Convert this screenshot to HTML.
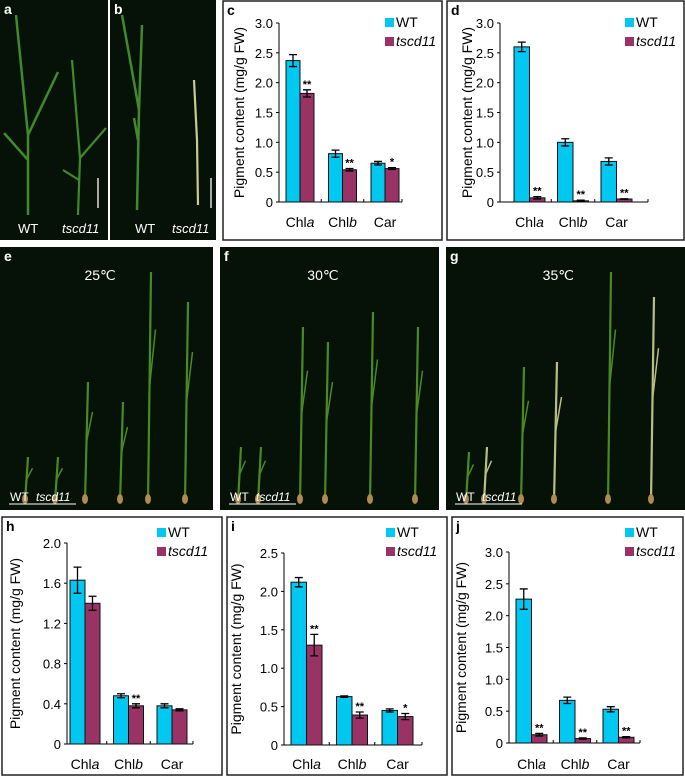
<!DOCTYPE html>
<html><head><meta charset="utf-8"><style>
html,body{margin:0;padding:0;background:#fff}
svg{display:block;font-family:"Liberation Sans",Arial,sans-serif}
</style></head><body>
<svg id="fig" width="685" height="778" viewBox="0 0 685 778" xmlns="http://www.w3.org/2000/svg">
<g id="photos"></g>
<g id="charts"></g>
</svg>
<script>
// ---- data ----
const categories = ['Chl', 'Chl', 'Car'];
const catItalic = ['a', 'b', ''];
const cWT = [2.37, 0.81, 0.65];
const cWTErr = [0.10, 0.06, 0.03];
const cMut = [1.82, 0.54, 0.56];
const cMutErr = [0.06, 0.02, 0.015];
const cStars = ['**', '**', '*'];
const cTicks = ['0', '0.5', '1.0', '1.5', '2.0', '2.5', '3.0'];
const dWT = [2.60, 1.00, 0.68];
const dWTErr = [0.08, 0.06, 0.06];
const dMut = [0.07, 0.02, 0.05];
const dMutErr = [0.02, 0.01, 0.005];
const dStars = ['**', '**', '**'];
const dTicks = ['0', '0.5', '1.0', '1.5', '2.0', '2.5', '3.0'];
const hWT = [1.63, 0.48, 0.38];
const hWTErr = [0.13, 0.02, 0.02];
const hMut = [1.40, 0.38, 0.34];
const hMutErr = [0.07, 0.02, 0.01];
const hStars = ['', '**', ''];
const hTicks = ['0', '0.4', '0.8', '1.2', '1.6', '2.0'];
const iWT = [2.12, 0.63, 0.45];
const iWTErr = [0.06, 0.01, 0.02];
const iMut = [1.30, 0.39, 0.37];
const iMutErr = [0.14, 0.04, 0.04];
const iStars = ['**', '**', '*'];
const iTicks = ['0', '0.5', '1.0', '1.5', '2.0', '2.5'];
const jWT = [2.26, 0.67, 0.53];
const jWTErr = [0.16, 0.05, 0.04];
const jMut = [0.13, 0.07, 0.09];
const jMutErr = [0.02, 0.01, 0.01];
const jStars = ['**', '**', '**'];
const jTicks = ['0', '0.5', '1.0', '1.5', '2.0', '2.5', '3.0'];

const NS = 'http://www.w3.org/2000/svg';
function mk(parent, tag, attrs, text) {
  const e = document.createElementNS(NS, tag);
  for (const k in attrs) e.setAttribute(k, attrs[k]);
  if (text !== undefined) e.textContent = text;
  parent.appendChild(e);
  return e;
}

// ---- photos ----
const photos = document.getElementById('photos');
function photo(name, x, y, w, h, letter, temp) {
  const g = mk(photos, 'g', {});
  
  
  mk(g, 'rect', {x: x, y: y, width: w, height: h, fill: '#061108'});
  const l = mk(g, 'text', {x: x + 4, y: y + 14, fill: '#fff', 'font-size': 14, 'font-weight': 'bold'}, letter);
  
  
  if (temp) {
    const t = mk(g, 'text', {x: x + w * 0.47, y: y + 33, fill: '#fff', 'font-size': 14, 'text-anchor': 'middle'}, temp);
    
    
  }
  return g;
}
function plant(g, x, yb, ht, col, lean) {
  mk(g, 'path', {d: `M${x} ${yb} L${x + lean} ${yb - ht}`, stroke: col, 'stroke-width': 2.2, fill: 'none'});
  mk(g, 'path', {d: `M${x + lean * 0.5} ${yb - ht * 0.5} L${x + lean * 0.5 + 6} ${yb - ht * 0.75}`, stroke: col, 'stroke-width': 1.5, fill: 'none'});
  mk(g, 'ellipse', {cx: x, cy: yb - 3, rx: 3, ry: 5, fill: '#b08a50'});
}
let ga = photo('photo-a', 0, 0, 108, 240, 'a');
mk(ga, 'path', {d: 'M28 215 L28 135 L16 15 M28 135 L58 72 M28 160 L4 133', stroke: '#3f8a2a', 'stroke-width': 2.5, fill: 'none'});
mk(ga, 'path', {d: 'M78 215 L80 158 L72 60 M80 158 L106 128 M79 180 L63 170', stroke: '#3f8a2a', 'stroke-width': 2.2, fill: 'none'});
mk(ga, 'line', {x1: 98, y1: 178, x2: 98, y2: 208, stroke: '#ddd', 'stroke-width': 1.5});
mk(ga, 'text', {x: 18, y: 233, fill: '#fff', 'font-size': 13}, 'WT');
mk(ga, 'text', {x: 62, y: 233, fill: '#fff', 'font-size': 13, 'font-style': 'italic'}, 'tscd11');
let gb = photo('photo-b', 110, 0, 106, 240, 'b');
mk(gb, 'path', {d: 'M137 210 L139 110 L122 15 M139 110 L142 25 M138 140 L134 118', stroke: '#3f8a2a', 'stroke-width': 2.5, fill: 'none'});
mk(gb, 'path', {d: 'M198 205 L197 140 L194 80', stroke: '#c8cc90', 'stroke-width': 2.2, fill: 'none'});
mk(gb, 'line', {x1: 211, y1: 178, x2: 211, y2: 208, stroke: '#ddd', 'stroke-width': 1.5});
mk(gb, 'text', {x: 135, y: 233, fill: '#fff', 'font-size': 13}, 'WT');
mk(gb, 'text', {x: 172, y: 233, fill: '#fff', 'font-size': 13, 'font-style': 'italic'}, 'tscd11');
const pe = [[25, 45], [55, 45], [85, 120], [120, 100], [148, 230], [185, 200]];
const pf = [[18, 55], [38, 55], [80, 175], [105, 160], [150, 190], [195, 175]];
const pg = [[20, 50], [38, 55], [75, 135], [108, 140], [162, 230], [205, 205]];
[['photo-e', 0, 213, 'e', '25℃', pe], ['photo-f', 220, 219, 'f', '30℃', pf], ['photo-g', 446, 239, 'g', '35℃', pg]].forEach(p => {
  const g = photo(p[0], p[1], 247, p[2], 263, p[3], p[4]);
  p[5].forEach((q, k) => plant(g, p[1] + q[0], 502, q[1], (p[3] === 'g' && k % 2 === 1) ? '#b8bf86' : '#4a8a22', 3));
  mk(g, 'text', {x: p[1] + 10, y: 501, fill: '#fff', 'font-size': 12}, 'WT');
  mk(g, 'text', {x: p[1] + 36, y: 501, fill: '#fff', 'font-size': 12, 'font-style': 'italic'}, 'tscd11');
  mk(g, 'line', {x1: p[1] + 9, y1: 504, x2: p[1] + 76, y2: 504, stroke: '#fff', 'stroke-width': 1});
});

// ---- charts ----
const charts = document.getElementById('charts');
function chart(name, letter, box, L, wt, wtErr, mut, mutErr, stars, ticks) {
  const g = mk(charts, 'g', {});
  
  
  mk(g, 'rect', {x: box[0], y: box[1], width: box[2], height: box[3], fill: '#fff', stroke: '#222', 'stroke-width': 1.5});
  const lt = mk(g, 'text', {x: box[0] + 4, y: box[1] + 14, 'font-size': 14, 'font-weight': 'bold'}, letter);
  
  
  const maxV = parseFloat(ticks[ticks.length - 1]);
  const yS = v => L.y0 - (v / maxV) * (L.y0 - L.yTop);
  const xS = (i, s) => L.bar1 + i * L.step + s * L.bw;
  const ya = mk(g, 'line', {x1: L.ax, y1: L.yTop, x2: L.ax, y2: L.y0, stroke: '#000', 'stroke-width': 1});
  
  
  const xa = mk(g, 'line', {x1: L.ax, y1: L.y0, x2: L.axEnd, y2: L.y0, stroke: '#000', 'stroke-width': 1});
  
  
  ticks.forEach(t => {
    const y = yS(parseFloat(t));
    mk(g, 'line', {x1: L.ax - 3, y1: y, x2: L.ax, y2: y, stroke: '#000'});
    const tl = mk(g, 'text', {x: L.ax - 6, y: y + 5, 'font-size': 13, 'text-anchor': 'end'}, t);
    
    
  });
  for (let k = 1; k < categories.length; k++) {
    const x = L.bar1 + k * L.step - (L.step - 2 * L.bw) / 2;
    mk(g, 'line', {x1: x, y1: L.y0, x2: x, y2: L.y0 - 3, stroke: '#000'});
  }
  mk(g, 'line', {x1: L.axEnd, y1: L.y0, x2: L.axEnd, y2: L.y0 - 3, stroke: '#000'});
  const tt = mk(g, 'text', {x: 0, y: 0, 'font-size': 14, 'text-anchor': 'middle', transform: `translate(${L.tx},${(L.yTop + L.y0) / 2}) rotate(-90)`}, 'Pigment content (mg/g FW)');
  
  
  const series = [[wt, wtErr, '#00c8f0', 'wt'], [mut, mutErr, '#993366', 'tscd11']];
  categories.forEach((c, i) => {
    series.forEach((s, si) => {
      const v = s[0][i], e = s[1][i];
      const x = xS(i, si), y = yS(v);
      const b = mk(g, 'rect', {x: x, y: y, width: L.bw, height: L.y0 - y, fill: s[2], stroke: '#111', 'stroke-width': 1});
      
      
      const cx = x + L.bw / 2, yt = yS(v + e), yb = yS(v - e);
      mk(g, 'path', {d: `M${cx} ${yt} V${yb} M${cx - 4} ${yt} H${cx + 4} M${cx - 4} ${yb} H${cx + 4}`, stroke: '#000', 'stroke-width': 1.3, fill: 'none'});
      if (si === 1 && stars[i]) {
        const st = mk(g, 'text', {x: cx, y: yt - 2, 'font-size': 11, 'font-weight': 'bold', 'text-anchor': 'middle'}, stars[i]);
        
        
      }
    });
    const cl = mk(g, 'text', {x: xS(i, 1), y: L.catY, 'font-size': 14, 'text-anchor': 'middle'});
    
    
    mk(cl, 'tspan', {}, c);
    if (catItalic[i]) mk(cl, 'tspan', {'font-style': 'italic'}, catItalic[i]);
  });
  [['WT', '#00c8f0', false], ['tscd11', '#993366', true]].forEach((le, k) => {
    const lg = mk(g, 'g', {});
    
    
    const ly = L.legY + k * 19;
    mk(lg, 'rect', {x: L.legX, y: ly, width: 9, height: 9, fill: le[1]});
    mk(lg, 'text', {x: L.legX + 11, y: ly + 9, 'font-size': 14, 'font-style': le[2] ? 'italic' : 'normal'}, le[0]);
  });
}
chart('chart-c', 'c', [223, 1, 219, 239], {ax: 279, y0: 202, yTop: 23, axEnd: 402, bar1: 286, step: 42.5, bw: 14, legX: 385, legY: 18, tx: 244, catY: 227}, cWT, cWTErr, cMut, cMutErr, cStars, cTicks);
chart('chart-d', 'd', [447, 1, 237, 239], {ax: 500, y0: 202, yTop: 23, axEnd: 648, bar1: 514, step: 43.5, bw: 15.5, legX: 625, legY: 18, tx: 472, catY: 227}, dWT, dWTErr, dMut, dMutErr, dStars, dTicks);
chart('chart-h', 'h', [2, 517, 220, 258], {ax: 67, y0: 744, yTop: 543, axEnd: 193, bar1: 70, step: 43.5, bw: 15, legX: 157, legY: 528, tx: 20, catY: 769}, hWT, hWTErr, hMut, hMutErr, hStars, hTicks);
chart('chart-i', 'i', [227, 517, 220, 258], {ax: 284, y0: 745, yTop: 553, axEnd: 422, bar1: 291, step: 45.5, bw: 15.5, legX: 386, legY: 528, tx: 241, catY: 769}, iWT, iWTErr, iMut, iMutErr, iStars, iTicks);
chart('chart-j', 'j', [452, 517, 231, 258], {ax: 509, y0: 743, yTop: 552, axEnd: 640, bar1: 516, step: 43.5, bw: 15.5, legX: 625, legY: 528, tx: 466, catY: 769}, jWT, jWTErr, jMut, jMutErr, jStars, jTicks);
</script>
</body></html>
